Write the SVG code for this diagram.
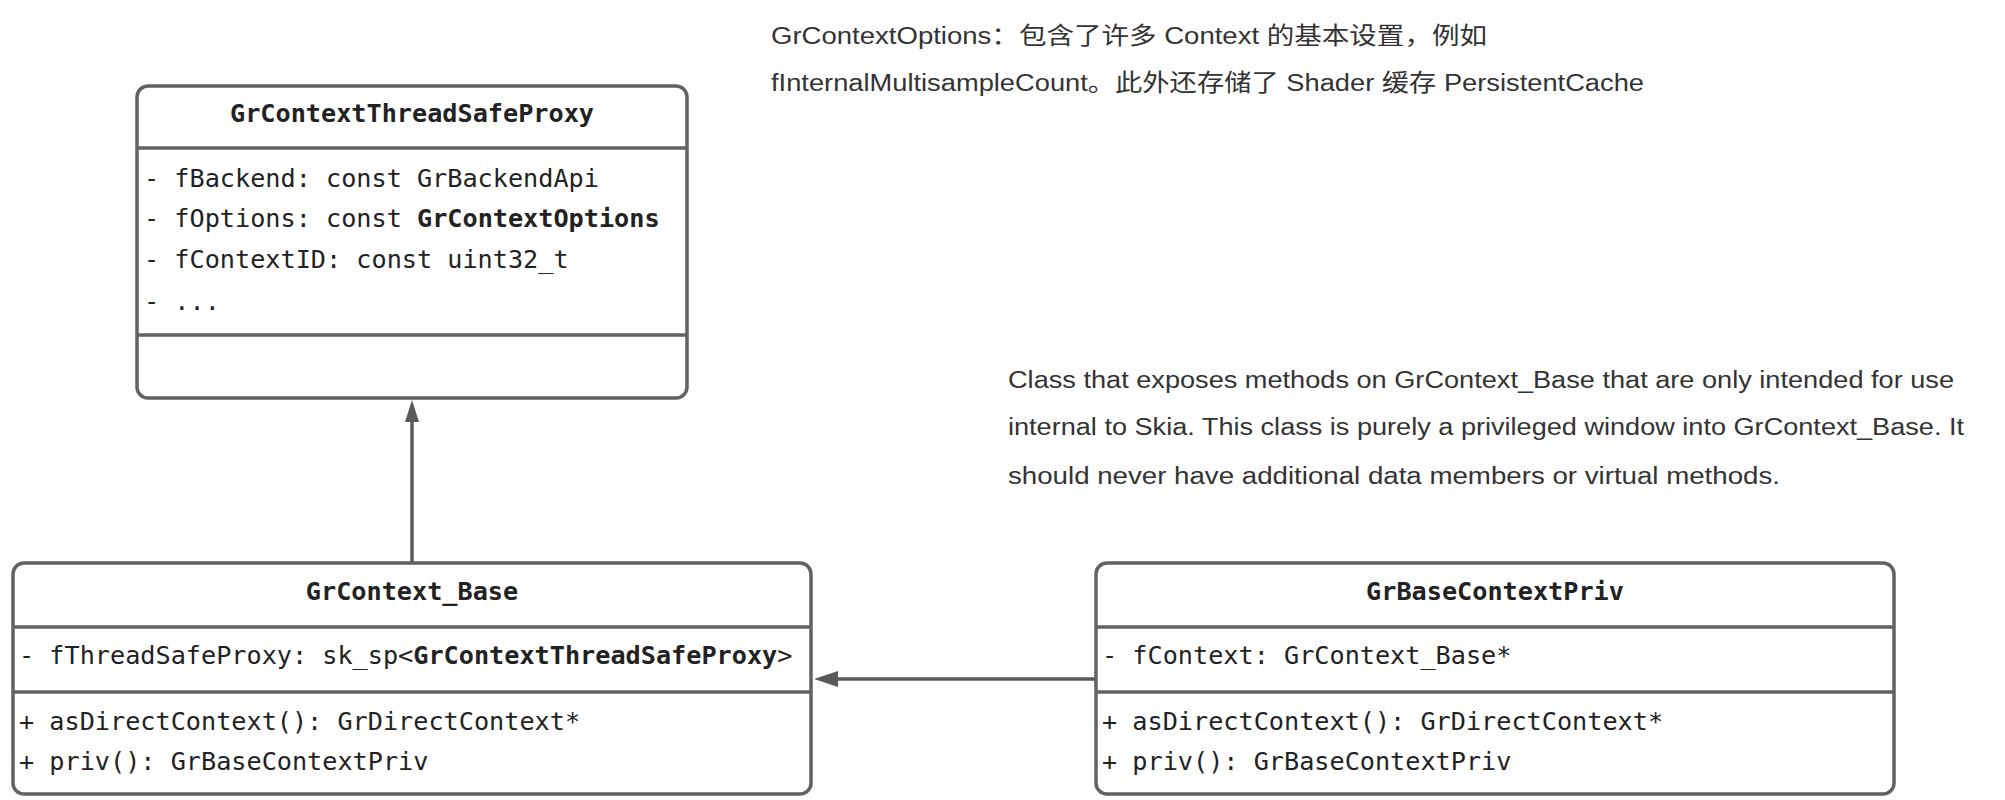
<svg xmlns="http://www.w3.org/2000/svg" width="2005" height="800" viewBox="0 0 2005 800">
<style>
.box{fill:#fff;stroke:#626262;stroke-width:3.5}
.ln{stroke:#626262;stroke-width:3.5}
.m{font-family:"DejaVu Sans Mono","Liberation Mono",monospace;font-size:25.2px;fill:#222}
.b{font-weight:bold}
.t{font-family:"Liberation Sans","Noto Sans CJK SC",sans-serif;font-size:23.5px;fill:#333}
.c{stroke:#5a5a5a;stroke-width:3.5;fill:none}
</style>
<g id="notes">
<text class="t" x="771" y="44" textLength="716" lengthAdjust="spacingAndGlyphs">GrContextOptions：包含了许多 Context 的基本设置，例如</text>
<text class="t" x="771" y="91" textLength="873" lengthAdjust="spacingAndGlyphs">fInternalMultisampleCount。此外还存储了 Shader 缓存 PersistentCache</text>
<text class="t" x="1008" y="388" textLength="946" lengthAdjust="spacingAndGlyphs">Class that exposes methods on GrContext_Base that are only intended for use</text>
<text class="t" x="1008" y="435" textLength="956" lengthAdjust="spacingAndGlyphs">internal to Skia. This class is purely a privileged window into GrContext_Base. It</text>
<text class="t" x="1008" y="484" textLength="772" lengthAdjust="spacingAndGlyphs">should never have additional data members or virtual methods.</text>
</g>
<g id="connectors">
<line class="c" x1="412" y1="563" x2="412" y2="420"/>
<path d="M412,400 L419,422 L405,422 Z" fill="#5a5a5a"/>
<line class="c" x1="1096" y1="679" x2="838" y2="679"/>
<path d="M814,679 L838,671 L838,687 Z" fill="#5a5a5a"/>
</g>
<g id="GrContextThreadSafeProxy">
<rect class="box" x="137" y="86" width="550" height="312" rx="11"/>
<line class="ln" x1="137" y1="148" x2="687" y2="148"/>
<line class="ln" x1="137" y1="335" x2="687" y2="335"/>
<text class="m b" x="412" y="122" text-anchor="middle">GrContextThreadSafeProxy</text>
<text class="m" x="144" y="187">- fBackend: const GrBackendApi</text>
<text class="m" x="144" y="227">- fOptions: const <tspan class="b">GrContextOptions</tspan></text>
<text class="m" x="144" y="268">- fContextID: const uint32_t</text>
<text class="m" x="144" y="310">- ...</text>
</g>
<g id="GrContext_Base">
<rect class="box" x="13" y="563" width="798" height="231" rx="11"/>
<line class="ln" x1="13" y1="627" x2="811" y2="627"/>
<line class="ln" x1="13" y1="692" x2="811" y2="692"/>
<text class="m b" x="412" y="600" text-anchor="middle">GrContext_Base</text>
<text class="m" x="19" y="664">- fThreadSafeProxy: sk_sp&lt;<tspan class="b">GrContextThreadSafeProxy</tspan>&gt;</text>
<text class="m" x="19" y="730">+ asDirectContext(): GrDirectContext*</text>
<text class="m" x="19" y="770">+ priv(): GrBaseContextPriv</text>
</g>
<g id="GrBaseContextPriv">
<rect class="box" x="1096" y="563" width="798" height="231" rx="11"/>
<line class="ln" x1="1096" y1="627" x2="1894" y2="627"/>
<line class="ln" x1="1096" y1="692" x2="1894" y2="692"/>
<text class="m b" x="1495" y="600" text-anchor="middle">GrBaseContextPriv</text>
<text class="m" x="1102" y="664">- fContext: GrContext_Base*</text>
<text class="m" x="1102" y="730">+ asDirectContext(): GrDirectContext*</text>
<text class="m" x="1102" y="770">+ priv(): GrBaseContextPriv</text>
</g>
</svg>
